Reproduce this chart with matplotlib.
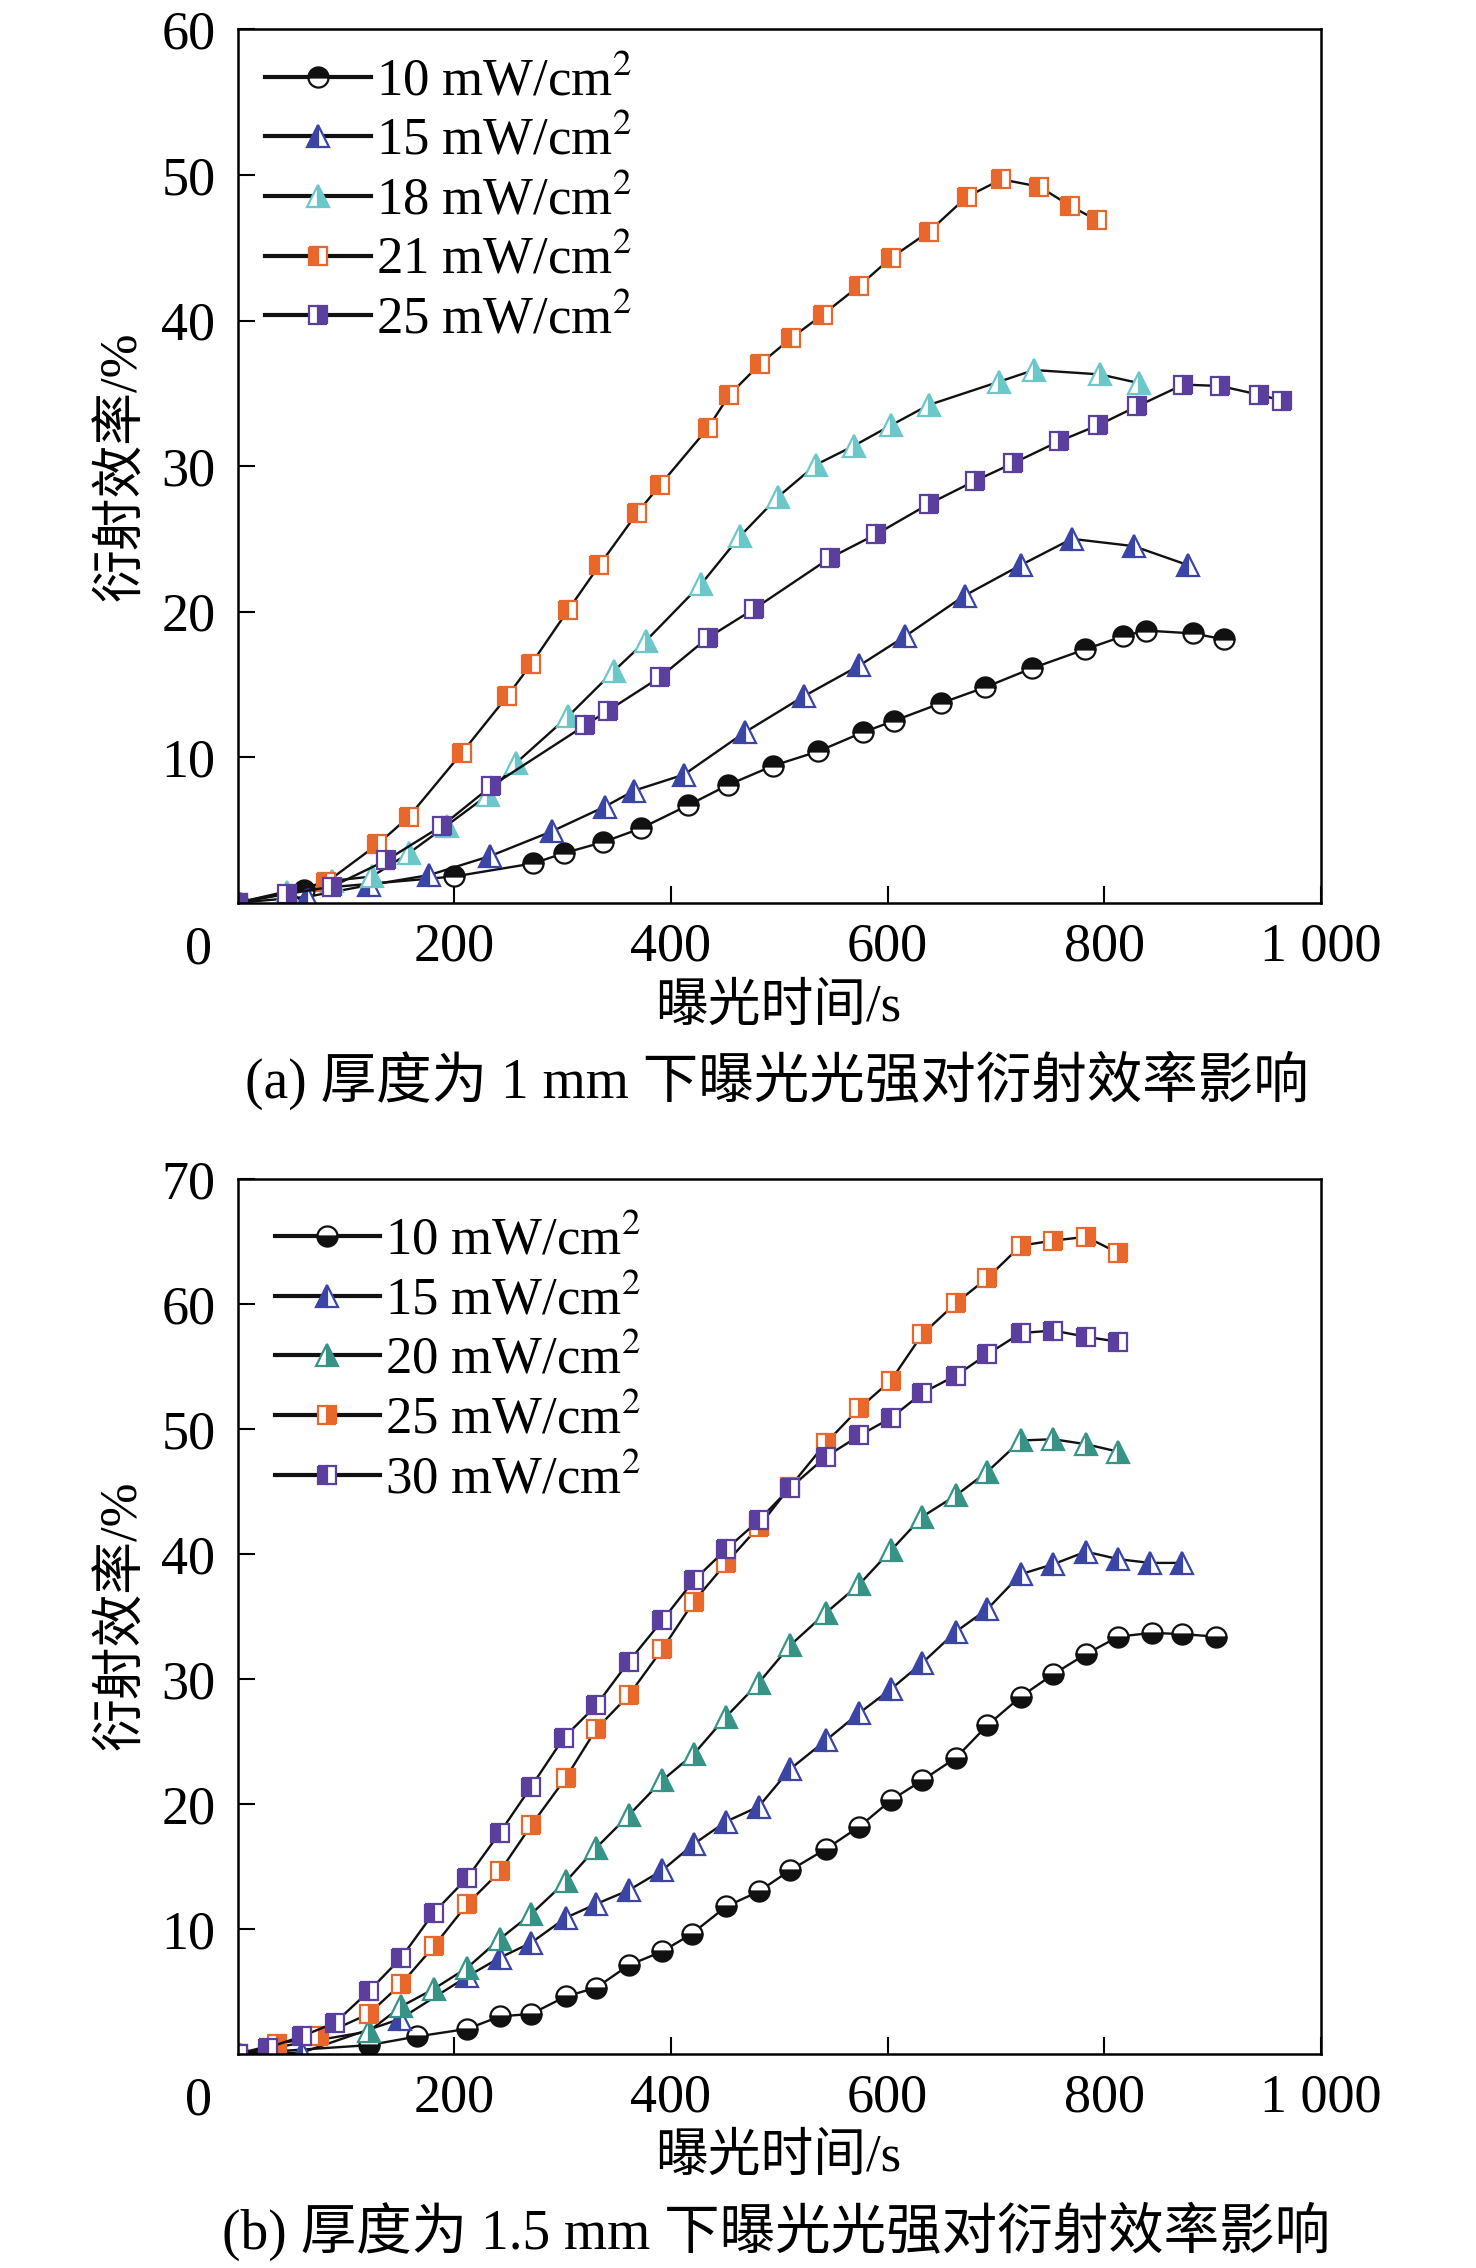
import matplotlib
matplotlib.use('Agg')
import matplotlib.pyplot as plt

plt.rcParams['font.family'] = ['Liberation Serif', 'Noto Sans CJK SC']
plt.rcParams['mathtext.fontset'] = 'stix'

# (a) 厚度 1 mm
a_t10 = [0, 61, 200, 273, 301, 337, 372, 416, 453, 494, 536, 577, 606, 649, 690, 733, 782, 817, 838, 882, 910]
a_y10 = [0, 0.9, 1.8, 2.7, 3.4, 4.15, 5.1, 6.7, 8.1, 9.4, 10.4, 11.7, 12.5, 13.7, 14.8, 16.1, 17.4, 18.3, 18.7, 18.5, 18.1]
a_t15 = [0, 64, 121, 177, 233, 290, 339, 366, 412, 468, 523, 574, 616, 671, 723, 770, 827, 877]
a_y15 = [0, 0.4, 1.2, 1.9, 3.2, 4.9, 6.6, 7.7, 8.8, 11.7, 14.2, 16.3, 18.3, 21.1, 23.2, 25.0, 24.5, 23.2]
a_t18 = [0, 46, 87, 124, 158, 193, 231, 257, 305, 347, 377, 428, 464, 499, 534, 569, 603, 638, 703, 735, 796, 832]
a_y18 = [0, 0.7, 1.5, 1.8, 3.4, 5.3, 7.4, 9.6, 12.8, 15.9, 18.0, 21.9, 25.2, 27.9, 30.1, 31.4, 32.8, 34.2, 35.8, 36.6, 36.3, 35.7]
a_t21 = [0, 82, 129, 158, 207, 249, 271, 305, 334, 369, 390, 434, 454, 482, 511, 540, 574, 603, 638, 673, 705, 740, 768, 793]
a_y21 = [0, 1.4, 4.0, 5.9, 10.3, 14.2, 16.4, 20.1, 23.2, 26.8, 28.7, 32.6, 34.9, 37.0, 38.8, 40.4, 42.4, 44.3, 46.1, 48.5, 49.7, 49.2, 47.9, 46.9]
a_t25 = [0, 46, 87, 137, 189, 234, 321, 342, 390, 434, 477, 547, 589, 638, 681, 716, 758, 794, 830, 873, 907, 943, 964]
a_y25 = [0, 0.6, 1.1, 2.9, 5.3, 8.0, 12.2, 13.2, 15.5, 18.2, 20.2, 23.7, 25.3, 27.4, 29.0, 30.2, 31.7, 32.8, 34.1, 35.6, 35.5, 34.9, 34.5]

# (b) 厚度 1.5 mm
b_t10 = [0, 121, 166, 212, 242, 271, 303, 331, 361, 392, 419, 451, 481, 510, 543, 574, 603, 632, 663, 692, 723, 753, 783, 813, 844, 872, 903]
b_y10 = [0, 0.7, 1.4, 2.0, 3.0, 3.2, 4.6, 5.3, 7.1, 8.2, 9.6, 11.8, 13.0, 14.7, 16.4, 18.2, 20.3, 21.9, 23.7, 26.3, 28.6, 30.4, 32.0, 33.4, 33.7, 33.6, 33.4]
b_t15 = [0, 59, 150, 212, 242, 271, 303, 331, 361, 392, 421, 451, 481, 510, 543, 574, 603, 632, 663, 692, 723, 753, 783, 813, 842, 872]
b_y15 = [0, 0.1, 2.8, 6.2, 7.7, 8.9, 10.9, 12.0, 13.1, 14.7, 16.8, 18.6, 19.8, 22.8, 25.1, 27.3, 29.2, 31.3, 33.8, 35.6, 38.4, 39.2, 40.2, 39.6, 39.3, 39.3]
b_t20 = [0, 121, 151, 181, 212, 242, 271, 303, 331, 361, 392, 421, 451, 481, 510, 543, 574, 603, 632, 663, 692, 723, 753, 783, 813]
b_y20 = [0, 1.8, 3.8, 5.2, 6.9, 9.2, 11.2, 13.8, 16.5, 19.1, 21.9, 24.0, 27.0, 29.7, 32.7, 35.3, 37.6, 40.3, 43.0, 44.7, 46.6, 49.1, 49.2, 48.8, 48.2]
b_t25 = [0, 36, 75, 121, 151, 181, 212, 242, 271, 303, 331, 361, 392, 421, 451, 481, 510, 543, 574, 603, 632, 663, 692, 723, 753, 783, 813]
b_y25 = [0, 0.8, 1.4, 3.2, 5.6, 8.6, 12.0, 14.6, 18.3, 22.1, 26.0, 28.7, 32.4, 36.2, 39.3, 42.2, 45.4, 48.9, 51.7, 53.9, 57.6, 60.1, 62.1, 64.7, 65.1, 65.4, 64.1]
b_t30 = [0, 28, 59, 90, 121, 151, 181, 212, 242, 271, 301, 331, 361, 392, 421, 451, 481, 510, 543, 574, 603, 632, 663, 692, 723, 753, 783, 813]
b_y30 = [0, 0.5, 1.4, 2.5, 5.0, 7.7, 11.3, 14.1, 17.7, 21.4, 25.3, 27.9, 31.4, 34.7, 37.9, 40.4, 42.7, 45.3, 47.8, 49.5, 50.9, 52.9, 54.3, 56.0, 57.7, 57.9, 57.4, 57.0]

black = '#111111'
blue = '#3b45a6'
cyan = '#6cc7c9'
teal = '#389387'
orange = '#e8672a'
purple = '#5b3f9e'

series_a = [
    (a_t10, a_y10, 'o', black, 'top', '10'),
    (a_t15, a_y15, '^', blue, 'left', '15'),
    (a_t18, a_y18, '^', cyan, 'right', '18'),
    (a_t21, a_y21, 's', orange, 'left', '21'),
    (a_t25, a_y25, 's', purple, 'right', '25'),
]
series_b = [
    (b_t10, b_y10, 'o', black, 'bottom', '10'),
    (b_t15, b_y15, '^', blue, 'left', '15'),
    (b_t20, b_y20, '^', teal, 'right', '20'),
    (b_t25, b_y25, 's', orange, 'right', '25'),
    (b_t30, b_y30, 's', purple, 'left', '30'),
]

fig = plt.figure(figsize=(14.76, 22.68), dpi=100)
ax1 = fig.add_axes([0.161, 0.602, 0.734, 0.385])
ax2 = fig.add_axes([0.161, 0.0944, 0.734, 0.3856])

msize = {'o': 14.5, '^': 15.5, 's': 13}


def draw(ax, series, ymax, legpad):
    for t, y, m, c, fs, lab in series:
        ax.plot(t, y, color=black, lw=1.7, marker=m, ms=msize[m], fillstyle=fs,
                markerfacecolor=c, markerfacecoloralt='white', markeredgecolor=c,
                markeredgewidth=1.6, label=lab + r' mW/cm$^2$')
    ax.set_xlim(0, 1000)
    ax.set_ylim(0, ymax)
    ax.set_xticks([200, 400, 600, 800, 1000])
    ax.set_xticklabels(['200', '400', '600', '800', '1 000'])
    ax.set_yticks(range(10, ymax + 1, 10))
    ax.tick_params(direction='in', length=12, width=1.5, labelsize=39, pad=14)
    ax.tick_params(axis='y', pad=16)
    for s in ax.spines.values():
        s.set_linewidth(1.8)
    ax.annotate('0', xy=(0, 0), xycoords='axes fraction', xytext=(-28, -34),
                textcoords='offset points', ha='center', va='center', fontsize=39)
    leg = ax.legend(loc='upper left', frameon=False, fontsize=38, handlelength=2.0,
                    handletextpad=0.1, labelspacing=0.2, borderaxespad=legpad,
                    borderpad=0.4)
    for h in leg.legend_handles:
        h.set_linewidth(3)


draw(ax1, series_a, 60, 0.12)
draw(ax2, series_b, 70, 0.3)

fig.text(0.083, 0.7946, '衍射效率/%', rotation=90, ha='center', va='center', fontsize=38)
fig.text(0.083, 0.2876, '衍射效率/%', rotation=90, ha='center', va='center', fontsize=38)
fig.text(0.527, 0.5555, '曝光时间/s', ha='center', va='center', fontsize=38)
fig.text(0.527, 0.0485, '曝光时间/s', ha='center', va='center', fontsize=38)
fig.text(0.526, 0.5236, '(a) 厚度为 1 mm 下曝光光强对衍射效率影响', ha='center', va='center', fontsize=40)
fig.text(0.526, 0.016, '(b) 厚度为 1.5 mm 下曝光光强对衍射效率影响', ha='center', va='center', fontsize=40)

fig.savefig('out.png', dpi=100)
